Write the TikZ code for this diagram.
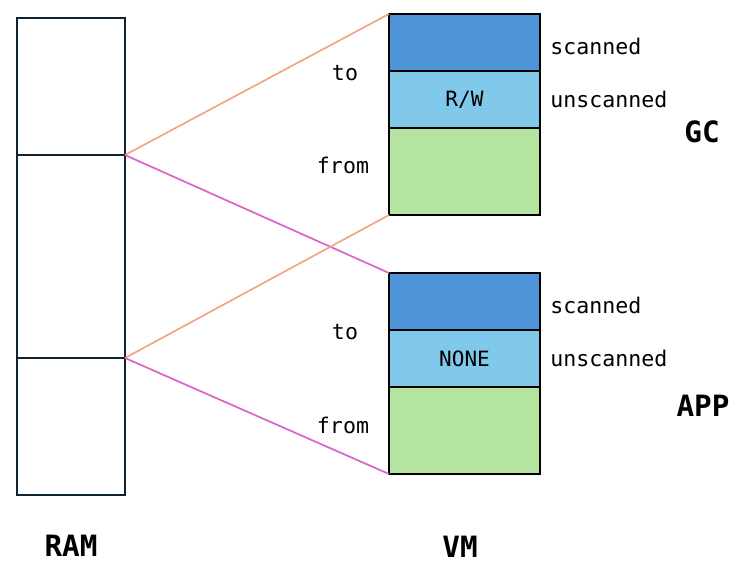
\documentclass[tikz,border=0pt]{standalone}
\usepackage{fontspec}
\setmonofont{DejaVu Sans Mono}
\definecolor{ramline}{HTML}{0E2230}
\definecolor{scanblue}{HTML}{4F94D8}
\definecolor{unscanblue}{HTML}{80C9EA}
\definecolor{fromgreen}{HTML}{B4E4A0}
\definecolor{toline}{HTML}{F0A882}
\definecolor{fromline}{HTML}{D966C6}

\begin{document}
\begin{tikzpicture}[x=0.75pt,y=-0.75pt,
    ramcell/.style={draw=ramline, line width=1.4pt, minimum width=108*0.75pt, inner sep=0pt, outer sep=0pt},
    vmcell/.style={draw=black, line width=1.4pt, minimum width=151*0.75pt, inner sep=0pt, outer sep=0pt,
        font=\ttfamily\fontsize{15.8}{18}\selectfont},
    lbl/.style={font=\ttfamily\fontsize{16.2}{19}\selectfont, inner sep=0pt},
    title/.style={font=\ttfamily\bfseries\fontsize{22}{25}\selectfont, inner sep=0pt}]
            \useasboundingbox (0,0) rectangle (743,566);
            % RAM column
            \node[ramcell, minimum height=137*0.75pt] (ram1) at (71,86.5) {};
            \node[ramcell, minimum height=203*0.75pt] (ram2) at (71,256.5) {};
            \node[ramcell, minimum height=137*0.75pt] (ram3) at (71,426.5) {};
            % GC space
            \node[vmcell, fill=scanblue, minimum height=57*0.75pt] (gcs) at (464.5,42.5) {};
            \node[vmcell, fill=unscanblue, minimum height=57*0.75pt] (gcu) at (464.5,99.5) {R/W};
            \node[vmcell, fill=fromgreen, minimum height=87*0.75pt] (gcf) at (464.5,171.5) {};
            % APP space
            \node[vmcell, fill=scanblue, minimum height=57*0.75pt] (apps) at (464.5,301.5) {};
            \node[vmcell, fill=unscanblue, minimum height=57*0.75pt] (appu) at (464.5,358.5) {NONE};
            \node[vmcell, fill=fromgreen, minimum height=87*0.75pt] (appf) at (464.5,430.5) {};
            % mappings
            \draw[toline, line width=1.3pt] (ram1.south east) -- (gcs.north west);
            \draw[fromline, line width=1.3pt] (ram1.south east) -- (apps.north west);
            \draw[toline, line width=1.3pt] (ram2.south east) -- (gcf.south west);
            \draw[fromline, line width=1.3pt] (ram2.south east) -- (appf.south west);
            % labels
            \node[lbl] (gcto) at (345,73) {to};
            \node[lbl] (gcfrom) at (343,165) {from};
            \node[lbl] (appto) at (345,332) {to};
            \node[lbl] (appfrom) at (343,425) {from};
            \node[lbl, anchor=west] (gcsl) at (550,46) {scanned};
            \node[lbl, anchor=west] (gcul) at (550,99) {unscanned};
            \node[lbl, anchor=west] (appsl) at (550,305) {scanned};
            \node[lbl, anchor=west] (appul) at (550,358) {unscanned};
            \node[title] (gc) at (702,132) {GC};
            \node[title] (app) at (703,406) {APP};
            \node[title] (ram) at (71,546) {RAM};
            \node[title] (vm) at (460,547) {VM};
        \end{tikzpicture}
\end{document}
